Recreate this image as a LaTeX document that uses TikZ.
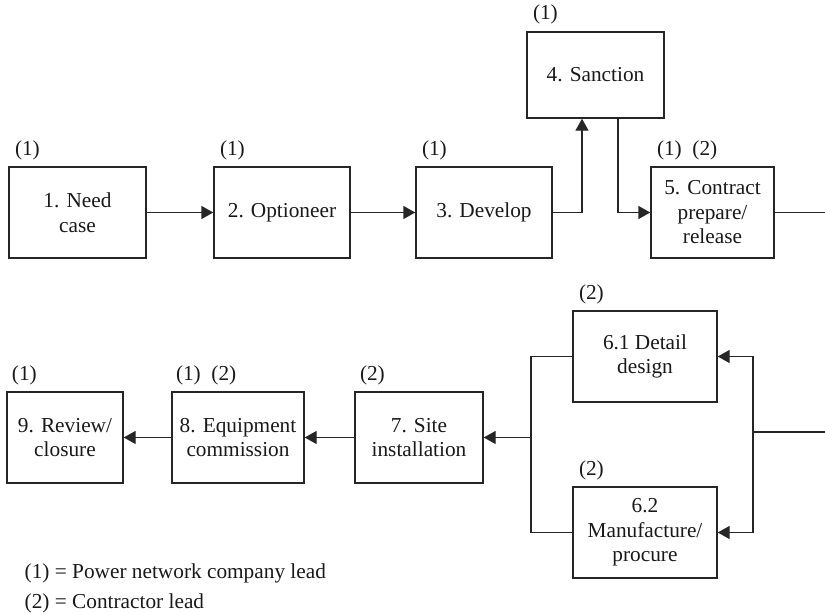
\documentclass[tikz,border=0pt]{standalone}
\usepackage{fontspec}
\setmainfont{Liberation Serif}
\usetikzlibrary{arrows.meta}
\begin{document}
\begin{tikzpicture}[x=1pt,y=-1pt,
  line width=1.4pt, draw=black!85,
  every node/.style={font=\fontsize{21.3}{24.5}\selectfont, text=black!90},
  stage/.style={draw, rectangle, align=center, inner sep=0pt, minimum height=91pt},
  arr/.style={-{Triangle[length=12pt,width=13pt]}},
  lead/.style={anchor=base west, inner sep=0pt}]
\useasboundingbox (0,0) rectangle (825,613);

% process stages
\node[stage, minimum width=137pt] (b1) at (77.5,212.5) {1. Need\\case};
\node[stage, minimum width=136pt] (b2) at (282,212.5) {2. Optioneer};
\node[stage, minimum width=136pt] (b3) at (484,212.5) {3. Develop};
\node[stage, minimum width=137pt, minimum height=86pt] (b4) at (595.5,75) {4. Sanction};
\node[stage, minimum width=123pt] (b5) at (712.5,212.5) {5. Contract\\prepare/\\release};
\node[stage, minimum width=144pt] (b61) at (645,356.5) {6.1 Detail\\design};
\node[stage, minimum width=144pt] (b62) at (645,532.5) {6.2\\Manufacture/\\procure};
\node[stage, minimum width=128pt] (b7) at (419,437.5) {7. Site\\installation};
\node[stage, minimum width=132pt] (b8) at (238,437.5) {8. Equipment\\commission};
\node[stage, minimum width=116pt] (b9) at (65,437.5) {9. Review/\\closure};

% who leads each stage
\node[lead] (l1) at ([xshift=6pt,yshift=11pt]b1.north west) {(1)};
\node[lead] (l2) at ([xshift=6pt,yshift=11pt]b2.north west) {(1)};
\node[lead] (l3) at ([xshift=6pt,yshift=11pt]b3.north west) {(1)};
\node[lead] (l4) at ([xshift=6pt,yshift=12pt]b4.north west) {(1)};
\node[lead] (l5) at ([xshift=6pt,yshift=11pt]b5.north west) {(1)\ \ (2)};
\node[lead] (l61) at ([xshift=6pt,yshift=11pt]b61.north west) {(2)};
\node[lead] (l62) at ([xshift=6pt,yshift=11pt]b62.north west) {(2)};
\node[lead] (l7) at ([xshift=5pt,yshift=11pt]b7.north west) {(2)};
\node[lead] (l8) at ([xshift=4pt,yshift=11pt]b8.north west) {(1)\ \ (2)};
\node[lead] (l9) at ([xshift=5pt,yshift=11pt]b9.north west) {(1)};

% legend
\node[lead] (k1) at (24,578) {(1) = Power network company lead};
\node[lead] (k2) at (24,608) {(2) = Contractor lead};

% junction points
\coordinate (e1) at (825,212.5);
\coordinate (e2) at (825,432);
\coordinate (rb) at (753,432);
\coordinate (lb) at (531,437.5);

% connectors
\draw[arr] (b1.east) -- (b2.west);
\draw[arr] (b2.east) -- (b3.west);
\draw[arr] (b3.east) -| ([xshift=-13.5pt]b4.south);
\draw[arr] ([xshift=22.5pt]b4.south) |- (b5.west);
\draw (b5.east) -- (e1);
\draw (e2) -- (rb);
\draw[arr] (rb) |- (b61.east);
\draw[arr] (rb) |- (b62.east);
\draw (b61.west) -| (lb);
\draw (b62.west) -| (lb);
\draw[arr] (lb) -- (b7.east);
\draw[arr] (b7.west) -- (b8.east);
\draw[arr] (b8.west) -- (b9.east);
\end{tikzpicture}
\end{document}
